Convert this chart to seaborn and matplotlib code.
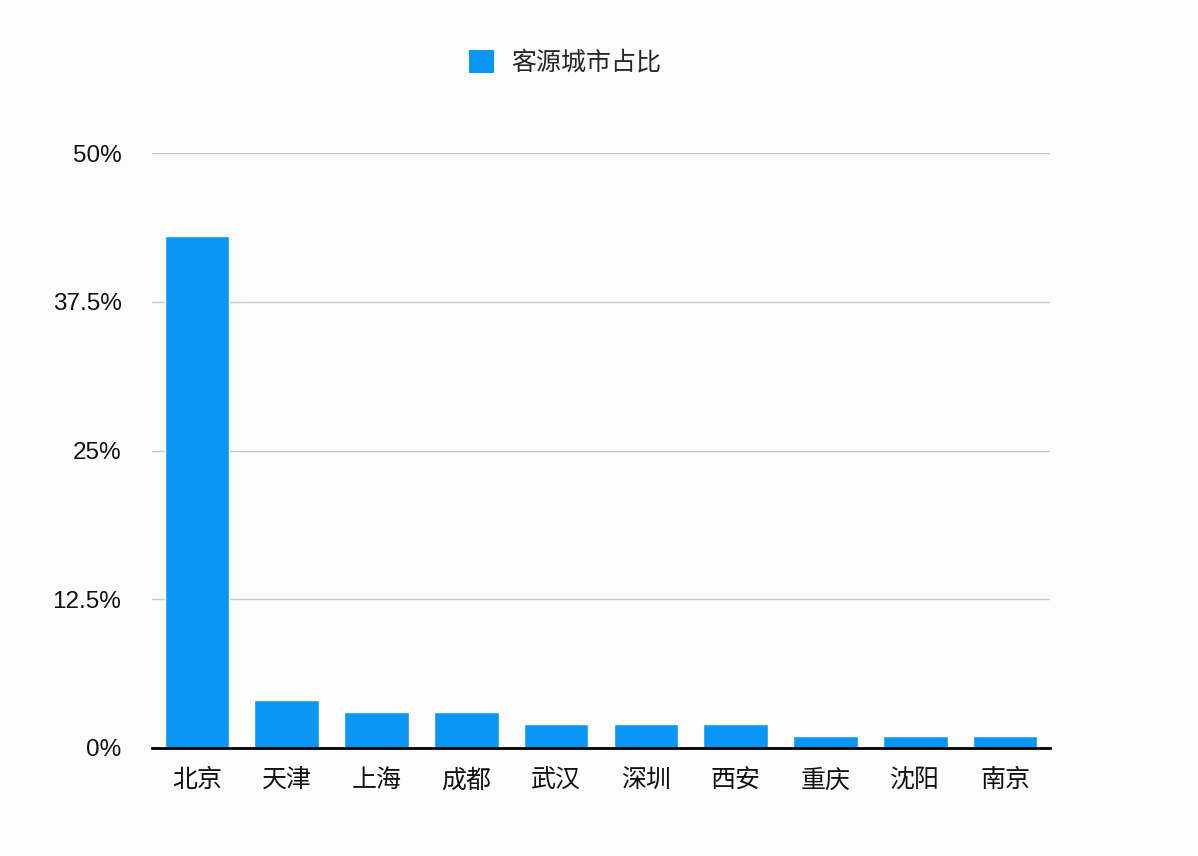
import matplotlib
matplotlib.use("Agg")
import matplotlib.pyplot as plt
import seaborn as sns
import pandas as pd
from matplotlib.patches import Patch

cities = ["北京", "天津", "上海", "成都", "武汉", "深圳", "西安", "重庆", "沈阳", "南京"]
shares = [43, 4, 3, 3, 2, 2, 2, 1, 1, 1]
y_ticks = [0, 12.5, 25, 37.5, 50]
y_tick_labels = ["0%", "12.5%", "25%", "37.5%", "50%"]
series_name = "客源城市占比"

sns.set_theme(style="white")
plt.rcParams["font.family"] = ["Noto Sans CJK SC", "DejaVu Sans"]

bar_color = "#0A96F5"
bg = "#FCFCFD"

df = pd.DataFrame({"city": cities, "share": shares})

fig = plt.figure(figsize=(11.98, 8.56), dpi=100, facecolor=bg)
ax = fig.add_axes([152 / 1198, 1 - 748 / 856, (1050 - 152) / 1198, (748 - 153) / 856])
ax.set_facecolor(bg)

sns.barplot(data=df, x="city", y="share", color=bar_color, width=0.72,
            saturation=1, ax=ax, zorder=3)

ax.set_ylim(0, 50)
ax.set_xlim(-0.5, len(cities) - 0.5)
ax.set_yticks(y_ticks)
ax.set_yticklabels(y_tick_labels, family=["Liberation Sans", "DejaVu Sans"])
ax.yaxis.grid(True, color="#C8C8CC", linewidth=1)
ax.set_axisbelow(True)
for s in ["top", "right", "left"]:
    ax.spines[s].set_visible(False)
ax.spines["bottom"].set_color("black")
ax.spines["bottom"].set_linewidth(2)
ax.spines["bottom"].set_zorder(5)
ax.set_xlabel("")
ax.set_ylabel("")
ax.tick_params(axis="y", length=0, pad=22, labelsize=17.5, labelcolor="#111111")
ax.tick_params(axis="x", length=0, pad=14, labelsize=18, labelcolor="#111111")

fig.legend(handles=[Patch(facecolor=bar_color, edgecolor="none", label=series_name)],
           loc="center", bbox_to_anchor=(565 / 1198, 1 - 63 / 856), frameon=False,
           fontsize=18, handlelength=1.0, handleheight=1.0, handletextpad=0.7)

fig.savefig("out.png", dpi=100, facecolor=bg)
